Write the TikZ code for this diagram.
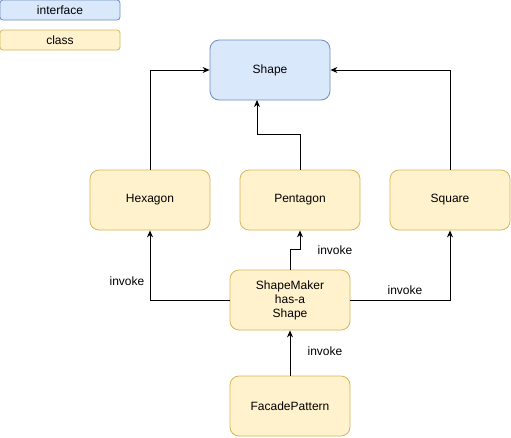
\documentclass[tikz,border=0pt]{standalone}
\usepackage{fontspec}
\setmainfont{Liberation Sans}
\usepackage{tikz}
\usetikzlibrary{arrows.meta}
\definecolor{ifblue}{RGB}{218,232,252}
\definecolor{ifline}{RGB}{108,142,191}
\definecolor{clyellow}{RGB}{255,242,204}
\definecolor{clline}{RGB}{214,182,86}
\tikzset{
  iface/.style={draw=ifline, fill=ifblue, rounded corners=9pt, minimum width=120pt, minimum height=60pt, line width=0.8pt},
  cls/.style={draw=clline, fill=clyellow, rounded corners=9pt, minimum width=120pt, minimum height=60pt, line width=0.8pt, align=center},
  legend/.style={rounded corners=3pt, minimum width=120pt, minimum height=20pt, line width=0.8pt},
  call/.style={line width=0.9pt, -{Stealth[length=7pt,width=6pt]}}
}

\begin{document}
\begin{tikzpicture}[x=1pt, y=-1pt, font=\fontsize{12}{14}\selectfont]
  \useasboundingbox (0,0) rectangle (511,437);

  % Legend
  \node[legend, draw=ifline, fill=ifblue] (legif) at (60,10) {interface};
  \node[legend, draw=clline, fill=clyellow] (legcl) at (60,40) {class};

  % Boxes
  \node[iface] (shape) at (270,70) {Shape};
  \node[cls] (hexagon) at (150,200) {Hexagon};
  \node[cls] (pentagon) at (300,200) {Pentagon};
  \node[cls] (square) at (450,200) {Square};
  \node[cls] (maker) at (290,300) {ShapeMaker\\has-a\\Shape};
  \node[cls] (facade) at (290,406) {FacadePattern};
  \coordinate (shapein) at (257,100);

  % Implements
  \draw[call] (hexagon.north) |- (shape.west);
  \draw[call] (square.north) |- (shape.east);
  \draw[call] (pentagon.north) -- ++(0,-35) -| (shapein);

  % Invokes
  \draw[call] (maker.west) -| (hexagon.south);
  \draw[call] (maker.east) -| (square.south);
  \draw[call] (maker.north) -- ++(0,-20) -| (pentagon.south);
  \draw[call] (facade.north) -- (maker.south);

  \node (invhex) at (127,281) {invoke};
  \node (invsq) at (405,290) {invoke};
  \node (invpent) at (335,250) {invoke};
  \node (invfac) at (325,351) {invoke};
\end{tikzpicture}
\end{document}
